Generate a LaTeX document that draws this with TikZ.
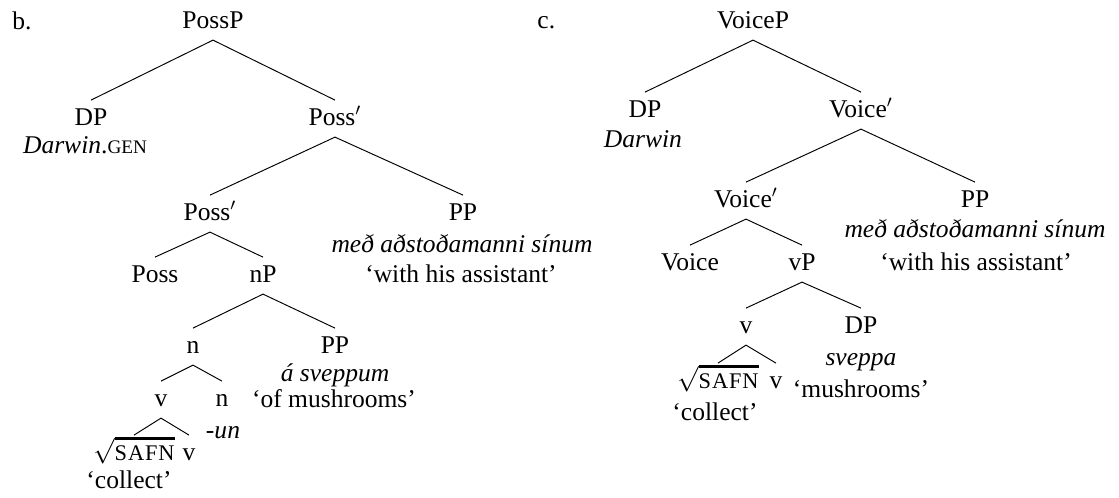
\documentclass[tikz,border=0pt]{standalone}
\usepackage{fontspec}
\setmainfont{Liberation Serif}
\usepackage{tikz}
\newcommand{\fsc}[1]{{\fontsize{9}{10}\selectfont #1}}
\newcommand{\rtsc}[1]{{\fontsize{10.5}{11}\selectfont\addfontfeature{LetterSpace=4}#1}}
\newcommand{\rootof}[1]{\setbox0\hbox{$\sqrt{\mbox{\rtsc{#1}}}$}\setbox2\hbox{$\surd$}%
    \rlap{\kern\wd2\rule[\dimexpr\ht0-1.0pt\relax]{\dimexpr\wd0-\wd2\relax}{1.2pt}}\box0}

\begin{document}
\begin{tikzpicture}[
        x=0.47pt, y=-0.47pt,
        font=\fontsize{12}{14.5}\selectfont,
        lab/.style={anchor=base, inner xsep=0pt, inner ysep=3.5pt, text height=8pt, text depth=2pt},
        gl/.style={anchor=base, inner sep=0pt},
        num/.style={anchor=base west, inner sep=0pt},
        br/.style={draw=black, line width=0.45pt}
    ]%
        \useasboundingbox (0,0) rectangle (1119,497);
        % ================= ARBOL b. (PossP) =================
        \node[num] (bLbl) at (12,29) {b.};
        \node[lab] (bPossP) at (213,28) {PossP};
        \node[lab] (bDP) at (91,125) {DP};
        \node[gl] (bDarwin) at (85,153) {\textit{Darwin}.\fsc{GEN}};
        \node[lab] (bPossA) at (335,125) {Poss$'$};
        \node[lab] (bPossB) at (210,220) {Poss$'$};
        \node[lab] (bPPa) at (463,220) {PP};
        \node[gl] (bMed) at (462,252) {\textit{með aðstoðamanni sínum}};
        \node[gl] (bWith) at (461,282) {‘with his assistant’};
        \node[lab] (bPoss) at (155,282) {Poss};
        \node[lab] (bnP) at (263,282) {nP};
        \node[lab] (bn) at (193,353) {n};
        \node[lab] (bPPb) at (335,353) {PP};
        \node[gl] (bAsv) at (335,381) {\textit{á sveppum}};
        \node[gl] (bOfm) at (334,407) {‘of mushrooms’};
        \node[lab] (bv) at (161,406) {v};
        \node[lab] (bnn) at (222,406) {n};
        \node[gl] (bUn) at (223,438) {\textit{-un}};
        \node[lab] (bRoot) at (134,460) {\rootof{SAFN}};
        \node[lab] (bvv) at (189,460) {v};
        \node[gl] (bCollect) at (129,488) {‘collect’};
        % ramas del arbol b.
        \draw[br] (bPossP.south) -- (bDP.north);
        \draw[br] (bPossP.south) -- (bPossA.north);
        \draw[br] (bPossA.south) -- (bPossB.north);
        \draw[br] (bPossA.south) -- (bPPa.north);
        \draw[br] (bPossB.south) -- (bPoss.north);
        \draw[br] (bPossB.south) -- (bnP.north);
        \draw[br] (bnP.south) -- (bn.north);
        \draw[br] (bnP.south) -- (bPPb.north);
        \draw[br] (bn.south) -- (bv.north);
        \draw[br] (bn.south) -- (bnn.north);
        \draw[br] (bv.south) -- (bRoot.north);
        \draw[br] (bv.south) -- (bvv.north);
        % ================= ARBOL c. (VoiceP) =================
        \node[num] (cLbl) at (537,28) {c.};
        \node[lab] (cVoiceP) at (753,28) {VoiceP};
        \node[lab] (cDP) at (645,117) {DP};
        \node[gl] (cDarwin) at (643,147) {\textit{Darwin}};
        \node[lab] (cVoiceA) at (861,117) {Voice$'$};
        \node[lab] (cVoiceB) at (746,207) {Voice$'$};
        \node[lab] (cPPa) at (975,207) {PP};
        \node[gl] (cMed) at (975,237) {\textit{með aðstoðamanni sínum}};
        \node[gl] (cWith) at (976,270) {‘with his assistant’};
        \node[lab] (cVoice) at (690,270) {Voice};
        \node[lab] (cvP) at (802,270) {vP};
        \node[lab] (cv) at (746,333) {v};
        \node[lab] (cDPb) at (861,333) {DP};
        \node[gl] (cSveppa) at (861,365) {\textit{sveppa}};
        \node[gl] (cMush) at (861,397) {‘mushrooms’};
        \node[lab] (cRoot) at (718,388) {\rootof{SAFN}};
        \node[lab] (cvv) at (776,388) {v};
        \node[gl] (cCollect) at (715,420) {‘collect’};
        % ramas del arbol c.
        \draw[br] (cVoiceP.south) -- (cDP.north);
        \draw[br] (cVoiceP.south) -- (cVoiceA.north);
        \draw[br] (cVoiceA.south) -- (cVoiceB.north);
        \draw[br] (cVoiceA.south) -- (cPPa.north);
        \draw[br] (cVoiceB.south) -- (cVoice.north);
        \draw[br] (cVoiceB.south) -- (cvP.north);
        \draw[br] (cvP.south) -- (cv.north);
        \draw[br] (cvP.south) -- (cDPb.north);
        \draw[br] (cv.south) -- (cRoot.north);
        \draw[br] (cv.south) -- (cvv.north);
    \end{tikzpicture}
\end{document}
